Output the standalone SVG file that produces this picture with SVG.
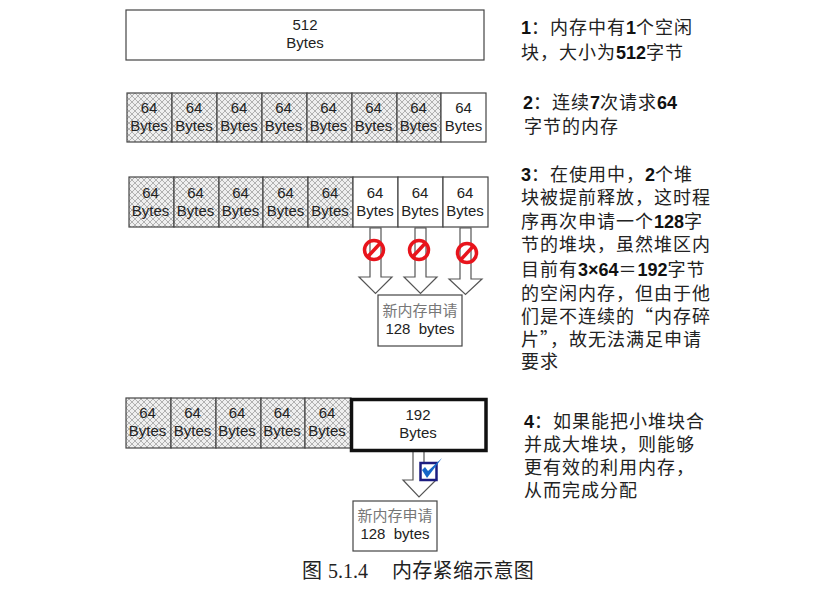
<svg xmlns="http://www.w3.org/2000/svg" xmlns:xlink="http://www.w3.org/1999/xlink" width="813" height="601" viewBox="0 0 813 601">
<style>
.t{font-family:"Liberation Sans","Noto Sans CJK SC",sans-serif;font-size:15px;fill:#222;text-anchor:middle}
.z{font-family:"Noto Sans CJK SC","Liberation Sans",sans-serif;font-size:15px;fill:#777;text-anchor:middle}
.n{font-family:"Noto Sans CJK SC","Liberation Sans",sans-serif;font-size:18px;letter-spacing:1px;fill:#222}
.n tspan{font-family:"Liberation Sans","Noto Sans CJK SC",sans-serif;font-weight:700;fill:#111;letter-spacing:0}
.cap{font-family:"Liberation Serif","Noto Sans CJK SC",serif;font-size:20px;fill:#222}
.h{fill:url(#hatch);stroke:#444;stroke-width:1.2}
.w{fill:#fff;stroke:#444;stroke-width:1.2}
.ar{fill:#fff;stroke:#555;stroke-width:1.2}
.no{fill:none;stroke:#e8141c;stroke-width:3.5}
</style>
<defs>
<pattern id="hatch" width="6" height="6" patternUnits="userSpaceOnUse">
<rect width="6" height="6" fill="#efefef"/>
<path d="M0 0L6 6M6 0L0 6" stroke="#aaa" stroke-width="0.9"/>
</pattern>
<g id="nosign"><circle r="9.5" class="no"/><path d="M-6.5 7L6.5 -7" class="no"/></g>
</defs>
<rect width="813" height="601" fill="#fff"/>

<g id="connectors">
<path class="ar" d="M370 228V277H359L375.500 293.500L392 277H381V228Z"/>
<path class="ar" d="M415 228V277H404L420.500 293.500L437 277H426V228Z"/>
<path class="ar" d="M460 228V279H449L465.500 294.500L482 279H471V228Z"/>
<path class="ar" d="M413 451V480H403L419 497L436 480H424V451Z"/>
</g>

<g id="block-512"><rect class="w" x="126" y="10" width="358" height="50"/><text class="t" x="305" y="30">512</text><text class="t" x="305" y="48">Bytes</text></g>

<g id="row2">
<rect class="h" x="127" y="93" width="45" height="49"/><text class="t" x="149" y="113">64</text><text class="t" x="149" y="131">Bytes</text>
<rect class="h" x="172" y="93" width="45" height="49"/><text class="t" x="194" y="113">64</text><text class="t" x="194" y="131">Bytes</text>
<rect class="h" x="217" y="93" width="45" height="49"/><text class="t" x="239" y="113">64</text><text class="t" x="239" y="131">Bytes</text>
<rect class="h" x="262" y="93" width="45" height="49"/><text class="t" x="283.500" y="113">64</text><text class="t" x="283.500" y="131">Bytes</text>
<rect class="h" x="307" y="93" width="45" height="49"/><text class="t" x="328.500" y="113">64</text><text class="t" x="328.500" y="131">Bytes</text>
<rect class="h" x="352" y="93" width="45" height="49"/><text class="t" x="373.500" y="113">64</text><text class="t" x="373.500" y="131">Bytes</text>
<rect class="h" x="397" y="93" width="44" height="49"/><text class="t" x="418.500" y="113">64</text><text class="t" x="418.500" y="131">Bytes</text>
<rect class="w" x="441" y="93" width="45" height="49"/><text class="t" x="463.500" y="113">64</text><text class="t" x="463.500" y="131">Bytes</text>
</g>

<g id="row3">
<rect class="h" x="129" y="177" width="45" height="50"/><text class="t" x="150.500" y="198">64</text><text class="t" x="150.500" y="216">Bytes</text>
<rect class="h" x="174" y="177" width="45" height="50"/><text class="t" x="195.500" y="198">64</text><text class="t" x="195.500" y="216">Bytes</text>
<rect class="h" x="219" y="177" width="44" height="50"/><text class="t" x="240.500" y="198">64</text><text class="t" x="240.500" y="216">Bytes</text>
<rect class="h" x="263" y="177" width="45" height="50"/><text class="t" x="285.500" y="198">64</text><text class="t" x="285.500" y="216">Bytes</text>
<rect class="h" x="308" y="177" width="45" height="50"/><text class="t" x="330" y="198">64</text><text class="t" x="330" y="216">Bytes</text>
<rect class="w" x="353" y="177" width="45" height="50"/><text class="t" x="375" y="198">64</text><text class="t" x="375" y="216">Bytes</text>
<rect class="w" x="398" y="177" width="45" height="50"/><text class="t" x="420" y="198">64</text><text class="t" x="420" y="216">Bytes</text>
<rect class="w" x="443" y="177" width="45" height="50"/><text class="t" x="465" y="198">64</text><text class="t" x="465" y="216">Bytes</text>
</g>

<g id="forbidden">
<use xlink:href="#nosign" href="#nosign" x="374" y="250"/>
<use xlink:href="#nosign" href="#nosign" x="419" y="250"/>
<use xlink:href="#nosign" href="#nosign" x="467" y="253"/>
</g>

<g id="request-a"><rect class="w" x="378" y="295" width="84" height="51"/><text class="z" x="420" y="316">新内存申请</text><text class="t" x="420" y="334" xml:space="preserve">128  bytes</text></g>

<g id="row4">
<rect class="h" x="126" y="398" width="45" height="50"/><text class="t" x="147.500" y="418">64</text><text class="t" x="147.500" y="436">Bytes</text>
<rect class="h" x="171" y="398" width="45" height="50"/><text class="t" x="192.500" y="418">64</text><text class="t" x="192.500" y="436">Bytes</text>
<rect class="h" x="216" y="398" width="45" height="50"/><text class="t" x="237" y="418">64</text><text class="t" x="237" y="436">Bytes</text>
<rect class="h" x="261" y="398" width="44" height="50"/><text class="t" x="282" y="418">64</text><text class="t" x="282" y="436">Bytes</text>
<rect class="h" x="305" y="398" width="46" height="50"/><text class="t" x="327" y="418">64</text><text class="t" x="327" y="436">Bytes</text>
</g>
<g id="block-192"><rect x="351.500" y="399.500" width="134.500" height="51" fill="#fff" stroke="#111" stroke-width="3.500"/><text class="t" x="418" y="420">192</text><text class="t" x="418" y="438">Bytes</text></g>

<g id="check">
<rect x="420.500" y="463" width="16" height="17" fill="#fff" stroke="#1c1c80" stroke-width="2.500"/>
<path d="M422 470L427 478L442 458L428 471L425 467Z" fill="#1466c8"/>
</g>

<g id="request-b"><rect class="w" x="353" y="501" width="84" height="50"/><text class="z" x="395" y="521">新内存申请</text><text class="t" x="395" y="539" xml:space="preserve">128  bytes</text></g>

<g id="notes">
<text class="n" x="521" y="34"><tspan>1</tspan>：内存中有<tspan>1</tspan>个空闲</text>
<text class="n" x="521" y="59">块，大小为<tspan>512</tspan>字节</text>
<text class="n" x="523" y="109"><tspan>2</tspan>：连续<tspan>7</tspan>次请求<tspan>64</tspan></text>
<text class="n" x="524" y="133">字节的内存</text>
<text class="n" x="521" y="181"><tspan>3</tspan>：在使用中，<tspan>2</tspan>个堆</text>
<text class="n" x="521" y="204">块被提前释放，这时程</text>
<text class="n" x="521" y="228">序再次申请一个<tspan>128</tspan>字</text>
<text class="n" x="521" y="251">节的堆块，虽然堆区内</text>
<text class="n" x="521" y="276">目前有<tspan>3×64</tspan>＝<tspan>192</tspan>字节</text>
<text class="n" x="521" y="300">的空闲内存，但由于他</text>
<text class="n" x="521" y="323">们是不连续的“内存碎</text>
<text class="n" x="521" y="346">片”，故无法满足申请</text>
<text class="n" x="521" y="368">要求</text>
<text class="n" x="524" y="428"><tspan>4</tspan>：如果能把小堆块合</text>
<text class="n" x="524" y="451">并成大堆块，则能够</text>
<text class="n" x="524" y="474">更有效的利用内存，</text>
<text class="n" x="524" y="497">从而完成分配</text>
</g>

<text class="cap" y="578"><tspan x="302">图</tspan><tspan x="328">5.1.4</tspan><tspan x="392" letter-spacing="0.3">内存紧缩示意图</tspan></text>
</svg>
